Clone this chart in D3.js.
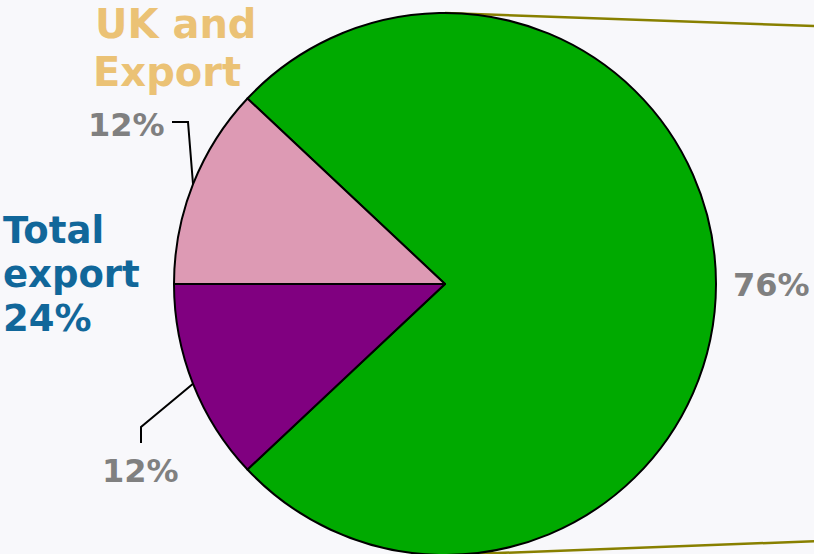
<!DOCTYPE html>
<html>
<head>
<meta charset="utf-8">
<script src="https://cdn.jsdelivr.net/npm/d3@7"></script>
<style>
  html, body { margin: 0; padding: 0; background: #f8f8fb; overflow: hidden; }
  text { font-family: Verdana, "DejaVu Sans", sans-serif; font-weight: bold; }
</style>
</head>
<body>
<svg id="chart" width="814" height="554"></svg>
<script>
const categories = ["UK only", "Export only", "UK and Export"];
const values = [76, 12, 12];
const sliceColors = ["#00aa00", "#800080", "#dd9ab4"];
const valueLabels = ["76%", "12%", "12%"];
const groupLabels = [["UK and", "Export"], ["Total", "export", "24%"]];

const width = 814, height = 554;
const cx = 445, cy = 284, radius = 271;
const svg = d3.select("#chart");
const g = svg.append("g").attr("transform", `translate(${cx},${cy})`);

// big slice is centred on the right, towards the second chart
const start = Math.PI / 2 - (values[0] / d3.sum(values)) * Math.PI;
const pie = d3.pie().sort(null).startAngle(start).endAngle(start + 2 * Math.PI);
const arcs = pie(values);
const arc = d3.arc().innerRadius(0).outerRadius(radius);

// connector lines to the (off-canvas) secondary chart
const edge = (a) => [radius * Math.sin(a), -radius * Math.cos(a)];
const connectors = [
  [edge(0), [900 - cx, 29 - cy]],
  [edge(Math.PI), [900 - cx, 538 - cy]],
];
g.selectAll(".connector")
  .data(connectors)
  .join("line")
  .attr("class", "connector")
  .attr("x1", (d) => d[0][0]).attr("y1", (d) => d[0][1])
  .attr("x2", (d) => d[1][0]).attr("y2", (d) => d[1][1])
  .attr("stroke", "#888000")
  .attr("stroke-width", 2.5);

g.selectAll(".slice")
  .data(arcs)
  .join("path")
  .attr("class", "slice")
  .attr("d", arc)
  .attr("fill", (d, i) => sliceColors[i])
  .attr("stroke", "#000")
  .attr("stroke-width", 2)
  .attr("stroke-linejoin", "round");

// value labels (positions relative to the pie centre)
const labelPos = [
  { x: 733 - cx, y: 296 - cy },
  { x: 102 - cx, y: 482 - cy },
  { x: 88 - cx, y: 136 - cy },
];
g.selectAll(".value")
  .data(arcs)
  .join("text")
  .attr("class", "value")
  .attr("x", (d, i) => labelPos[i].x)
  .attr("y", (d, i) => labelPos[i].y)
  .attr("fill", "#808080")
  .attr("font-size", 32)
  .text((d, i) => valueLabels[i]);

// leader lines for the two small slices
const mid = (d) => edge((d.startAngle + d.endAngle) / 2);
const leaders = [
  { d: arcs[1], pts: (m) => [[141 - cx, 443 - cy], [141 - cx, 427 - cy], m] },
  { d: arcs[2], pts: (m) => [[172 - cx, 122 - cy], [188 - cx, 122 - cy], m] },
];
g.selectAll(".leader")
  .data(leaders)
  .join("path")
  .attr("class", "leader")
  .attr("d", (l) => d3.line()(l.pts(mid(l.d))))
  .attr("fill", "none")
  .attr("stroke", "#000")
  .attr("stroke-width", 2);

// group labels
svg.append("text")
  .attr("fill", "#ebc275")
  .attr("font-size", 40)
  .selectAll("tspan")
  .data(groupLabels[0])
  .join("tspan")
  .attr("x", (d, i) => (i === 0 ? 95 : 93))
  .attr("y", (d, i) => 38 + i * 48)
  .text((d) => d);

svg.append("text")
  .attr("fill", "#11679a")
  .attr("font-size", 37)
  .selectAll("tspan")
  .data(groupLabels[1])
  .join("tspan")
  .attr("x", 3)
  .attr("y", (d, i) => 243 + i * 44)
  .text((d) => d);
</script>
</body>
</html>
